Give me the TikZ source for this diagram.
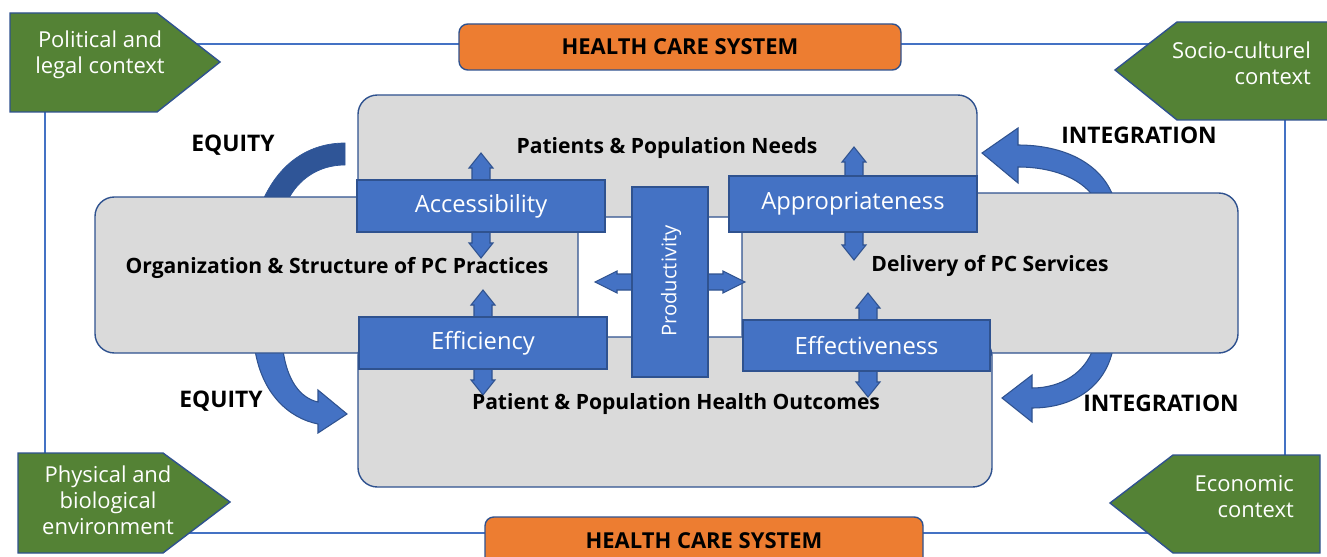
\documentclass[tikz,border=0pt]{standalone}
\usepackage{fontspec}
\setmainfont{Open Sans}
\usetikzlibrary{positioning}

\definecolor{pcblue}{RGB}{68,114,196}
\definecolor{pcedge}{RGB}{47,82,143}
\definecolor{pcdark}{RGB}{47,85,151}
\definecolor{pcgray}{RGB}{218,218,218}
\definecolor{pcgreen}{RGB}{84,130,53}
\definecolor{pcorange}{RGB}{237,125,49}

\tikzset{
  hcsframe/.style={draw=pcblue, line width=1pt},
  pcarea/.style={draw=pcedge, fill=pcgray, line width=0.8pt, rounded corners=11pt},
  arealabel/.style={font=\bfseries\fontsize{12}{14}\selectfont},
  dimbox/.style={draw=pcedge, fill=pcblue, line width=0.8pt, inner sep=0pt,
    text=white, font=\fontsize{13.5}{16}\selectfont},
  dimarrow/.style={draw=pcedge, fill=pcblue, line width=0.6pt},
  dimlabel/.style={font=\bfseries\fontsize{13}{15}\selectfont},
  envshape/.style={draw=pcedge, fill=pcgreen, line width=0.8pt},
  envlabel/.style={text=white, font=\fontsize{12.5}{14.8}\selectfont},
  hcsbox/.style={draw=pcedge, fill=pcorange, line width=0.8pt, rounded corners=5pt},
  hcslabel/.style={font=\bfseries\fontsize{12.5}{15}\selectfont},
}

% vertical double arrow: centre x, top tip, bottom tip
\newcommand{\pcupdown}[3]{%
  \filldraw[dimarrow] (#1,#2) -- (#1+12,#2+15) -- (#1+9,#2+15) -- (#1+9,#3-15)
    -- (#1+12,#3-15) -- (#1,#3) -- (#1-12,#3-15) -- (#1-9,#3-15)
    -- (#1-9,#2+15) -- (#1-12,#2+15) -- cycle;}
% horizontal double arrow: centre y, left tip, right tip
\newcommand{\pcleftright}[3]{%
  \filldraw[dimarrow] (#2,#1) -- (#2+22,#1-11) -- (#2+22,#1-8) -- (#3-22,#1-8)
    -- (#3-22,#1-11) -- (#3,#1) -- (#3-22,#1+11) -- (#3-22,#1+8)
    -- (#2+22,#1+8) -- (#2+22,#1+11) -- cycle;}

\begin{document}
\begin{tikzpicture}[x=0.02cm, y=-0.02cm]
    \useasboundingbox (0,0) rectangle (1327,557);

    % outer frame of the health care system
    \draw[hcsframe] (45,44) rectangle (1285,533);

    % context shapes
    \filldraw[envshape] (10,13) -- (157,13) -- (220,62) -- (157,112) -- (10,112) -- cycle;
    \node[envlabel, align=center] (pol) at (100,55) {Political and\\legal context};
    \filldraw[envshape] (1115,70) -- (1177,22) -- (1335,22) -- (1335,120) -- (1177,120) -- cycle;
    \node[envlabel, align=right, anchor=east] (soc) at (1317,63) {Socio-culturel\\context};
    \filldraw[envshape] (18,453) -- (163,453) -- (230,502) -- (163,553) -- (18,553) -- cycle;
    \node[envlabel, align=center] (phy) at (108,500) {Physical and\\biological\\environment};
    \filldraw[envshape] (1110,503) -- (1173,455) -- (1320,455) -- (1320,553) -- (1173,553) -- cycle;
    \node[envlabel, align=right, anchor=east] (eco) at (1300,497) {Economic\\context};

    % health care system boxes
    \filldraw[hcsbox] (459,24) rectangle (901,70);
    \node[hcslabel] (hcstop) at (680,47) {HEALTH CARE SYSTEM};
    \filldraw[hcsbox] (485,517) rectangle (923,570);
    \node[hcslabel] (hcsbot) at (704,541) {HEALTH CARE SYSTEM};

    % curved arrows
    \filldraw[fill=pcdark, draw=pcdark] (263,200) .. controls (280,162) and (310,143) .. (345,143)
        -- (345,165) .. controls (318,165) and (298,180) .. (288,200) -- cycle;
    \filldraw[dimarrow] (255,350) .. controls (262,393) and (288,418) .. (318,424)
        -- (318,433) -- (347,414) -- (318,390) -- (318,402)
        .. controls (300,398) and (287,380) .. (283,350) -- cycle;
    \filldraw[dimarrow] (1113,196) .. controls (1100,162) and (1062,145) .. (1018,145)
        -- (1018,128) -- (982,153) -- (1018,183) -- (1018,167)
        .. controls (1052,167) and (1080,178) .. (1093,196) -- cycle;
    \filldraw[dimarrow] (1113,349) .. controls (1105,388) and (1072,408) .. (1032,408)
        -- (1032,422) -- (1002,398) -- (1032,375) -- (1032,388)
        .. controls (1062,388) and (1085,372) .. (1093,349) -- cycle;

    % grey areas
    \filldraw[pcarea] (358,95) rectangle (977,217);
    \filldraw[pcarea] (95,197) rectangle (578,353);
    \filldraw[pcarea] (742,193) rectangle (1238,353);
    \filldraw[pcarea] (358,337) rectangle (992,487);

    % double arrows
    \pcupdown{481}{153}{258}
    \pcupdown{854}{147}{260}
    \pcupdown{483}{290}{395}
    \pcupdown{868}{293}{397}
    \pcleftright{282}{595}{745}

    % dimension boxes
    \node[dimbox, minimum width=4.96cm, minimum height=1.04cm] (access) at (481,206) {Accessibility};
    \node[dimbox, minimum width=4.96cm, minimum height=1.12cm] (approp) at (853,204) {Appropriateness};
    \node[dimbox, minimum width=4.96cm, minimum height=1.04cm] (effic) at (483,343) {Efficiency};
    \node[dimbox, minimum width=4.94cm, minimum height=1.02cm] (effect) at (866.5,345.5) {Effectiveness};
    \node[dimbox, minimum width=1.52cm, minimum height=3.8cm] (prodbox) at (670,282) {};
    \node[text=white, font=\fontsize{11.5}{14}\selectfont, rotate=90] (prod) at (671,281) {Productivity};

    % area labels
    \node[arealabel] (needs) at (667,148) {Patients \& Population Needs};
    \node[arealabel] (orgstr) at (337,268) {Organization \& Structure of PC Practices};
    \node[arealabel] (delivery) at (990,266) {Delivery of PC Services};
    \node[arealabel] (outcomes) at (676,404) {Patient \& Population Health Outcomes};

    % dimension labels
    \node[dimlabel] (equitytop) at (233,145) {EQUITY};
    \node[dimlabel] (equitybot) at (221,401) {EQUITY};
    \node[dimlabel] (integtop) at (1139,135) {INTEGRATION};
    \node[dimlabel] (integbot) at (1161,403) {INTEGRATION};
\end{tikzpicture}
\end{document}
